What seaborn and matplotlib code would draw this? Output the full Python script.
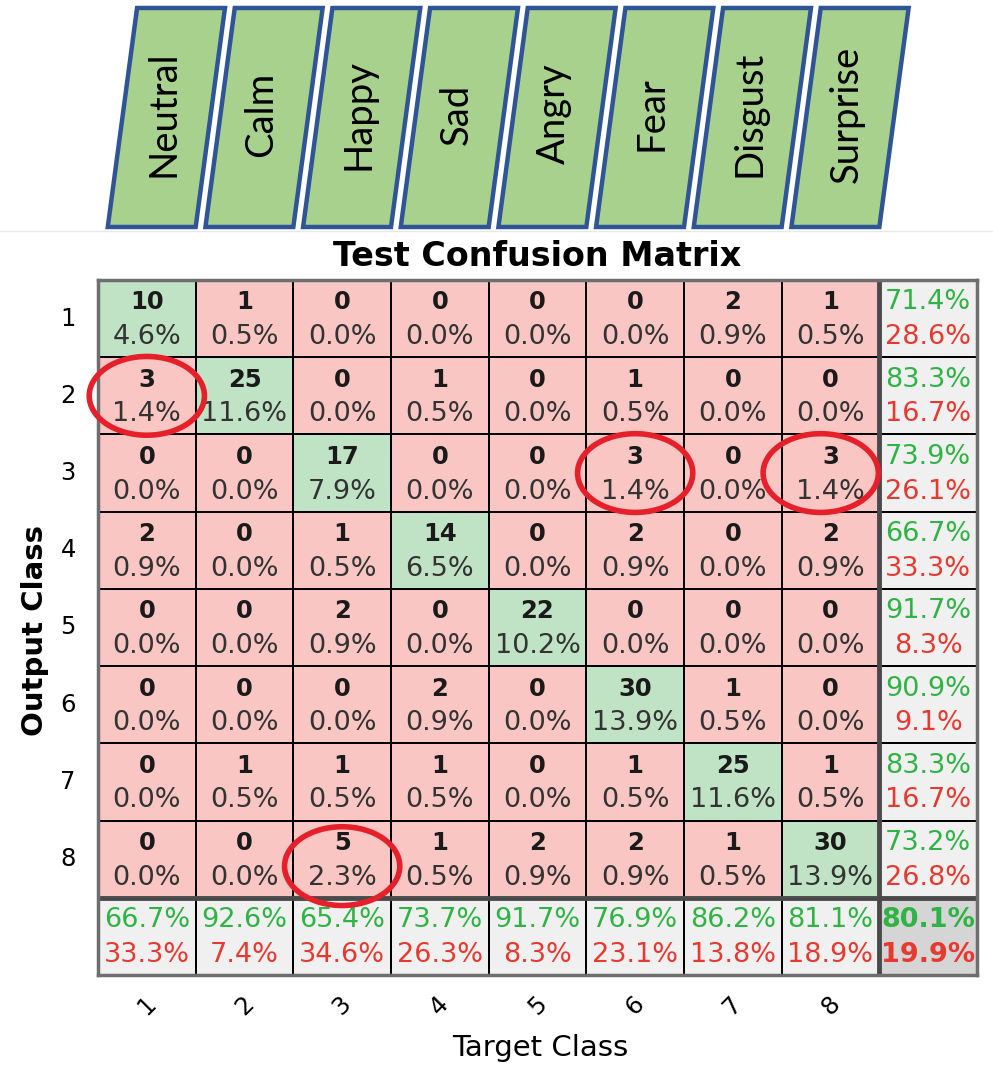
import numpy as np
import matplotlib
matplotlib.use("Agg")
import matplotlib.pyplot as plt
import seaborn as sns
from matplotlib.colors import ListedColormap
from matplotlib.patches import Polygon, Ellipse
from matplotlib.lines import Line2D

# ---------------- data ----------------
emotions = ["Neutral", "Calm", "Happy", "Sad", "Angry", "Fear", "Disgust", "Surprise"]
class_labels = ["1", "2", "3", "4", "5", "6", "7", "8"]
counts = [
    [10, 1, 0, 0, 0, 0, 2, 1],
    [3, 25, 0, 1, 0, 1, 0, 0],
    [0, 0, 17, 0, 0, 3, 0, 3],
    [2, 0, 1, 14, 0, 2, 0, 2],
    [0, 0, 2, 0, 22, 0, 0, 0],
    [0, 0, 0, 2, 0, 30, 1, 0],
    [0, 1, 1, 1, 0, 1, 25, 1],
    [0, 0, 5, 1, 2, 2, 1, 30],
]
highlighted = [(1, 0), (2, 5), (2, 7), (7, 2)]  # (output row, target col)

# small placement nudges for the hand-drawn circles (style, not data)
circle_nudge = [(0.0, 0.0), (0.0, 0.0), (-0.1, 0.0), (0.0, 0.09)]

# ---------------- derived ----------------
cm = np.array(counts)
n = len(class_labels)
total = cm.sum()
row_tot = cm.sum(axis=1)
col_tot = cm.sum(axis=0)
diag = np.diag(cm)

kind = np.zeros((n + 1, n + 1))
for i in range(n):
    kind[i, i] = 1
kind[n, :] = 2
kind[:, n] = 2
kind[n, n] = 3

cmap = ListedColormap(["#f9c6c3", "#bfe3c4", "#f0f0f0", "#d5d5d5"])
GREEN = "#2fb344"
RED = "#e6392f"
PCT_FS = 19.5

plt.rcParams["font.family"] = ["DejaVu Sans"]

W, H = 993, 1079
fig = plt.figure(figsize=(W / 100, H / 100), dpi=100)

# ---------------- matrix ----------------
ax = fig.add_axes([98 / W, 1 - 975 / H, 879 / W, 695 / H])
sns.heatmap(kind, cmap=cmap, vmin=-0.5, vmax=3.5, cbar=False,
            linewidths=1.3, linecolor="black", ax=ax,
            xticklabels=class_labels + [""], yticklabels=class_labels + [""])

for r in range(n):
    for c in range(n):
        ax.text(c + 0.5, r + 0.29, f"{cm[r, c]}", ha="center", va="center",
                fontsize=17.5, fontweight="bold", color="#1a1a1a")
        ax.text(c + 0.5, r + 0.74, f"{100 * cm[r, c] / total:.1f}%", ha="center",
                va="center", fontsize=PCT_FS, color="#333333")
    acc = 100 * diag[r] / row_tot[r]
    ax.text(n + 0.5, r + 0.29, f"{acc:.1f}%", ha="center", va="center",
            fontsize=PCT_FS, color=GREEN)
    ax.text(n + 0.5, r + 0.74, f"{100 - acc:.1f}%", ha="center", va="center",
            fontsize=PCT_FS, color=RED)
for c in range(n):
    acc = 100 * diag[c] / col_tot[c]
    ax.text(c + 0.5, n + 0.29, f"{acc:.1f}%", ha="center", va="center",
            fontsize=PCT_FS, color=GREEN)
    ax.text(c + 0.5, n + 0.74, f"{100 - acc:.1f}%", ha="center", va="center",
            fontsize=PCT_FS, color=RED)
acc = 100 * diag.sum() / total
ax.text(n + 0.5, n + 0.29, f"{acc:.1f}%", ha="center", va="center",
        fontsize=PCT_FS, color=GREEN, fontweight="bold")
ax.text(n + 0.5, n + 0.74, f"{100 - acc:.1f}%", ha="center", va="center",
        fontsize=PCT_FS, color=RED, fontweight="bold")

ax.axhline(n, color="#4a4a4a", lw=3.5)
ax.axvline(n, color="#4a4a4a", lw=3.5)
for sp in ax.spines.values():
    sp.set_visible(True)
    sp.set_color("#6e6e6e")
    sp.set_linewidth(2.5)

for (r, c), (dx, dy) in zip(highlighted, circle_nudge):
    ax.add_patch(Ellipse((c + 0.5 + dx, r + 0.5 + dy), width=1.18, height=1.02,
                         fill=False, edgecolor="#e5202a", lw=4, clip_on=False,
                         zorder=6))

ax.tick_params(axis="both", length=0, labelsize=17.5, colors="black")
ax.tick_params(axis="x", pad=22)
ax.tick_params(axis="y", pad=16)
plt.setp(ax.get_xticklabels(), rotation=45, ha="center", va="center")
plt.setp(ax.get_yticklabels(), rotation=0)

ax.set_title("Test Confusion Matrix", fontsize=24, fontweight="bold", pad=10)
ax.set_xlabel("Target Class", fontsize=21)
ax.xaxis.set_label_coords(0.503, -0.105)
ax.xaxis.label.set_va("center")
ax.set_ylabel("Output Class", fontsize=21, fontweight="bold")
ax.yaxis.set_label_coords((35 - 98) / 879, (975 - 630) / 695)
ax.yaxis.label.set_va("center")

# ---------------- emotion banner ----------------
axt = fig.add_axes([98 / W, 1 - 235 / H, 879 / W, 235 / H])
axt.set_xlim(0, n + 1)
axt.set_ylim(235, 0)
axt.axis("off")
half_w, skew = 0.45, 0.15
for i, name in enumerate(emotions):
    cx = i + 0.5 + 0.2
    pts = [(cx + skew - half_w, 8), (cx + skew + half_w, 8),
           (cx - skew + half_w, 227), (cx - skew - half_w, 227)]
    axt.add_patch(Polygon(pts, closed=True, facecolor="#a9d18e",
                          edgecolor="#2f5597", lw=3.2, clip_on=False))
    axt.text(cx - 0.03, 114, name, rotation=90, ha="center", va="center",
             fontsize=27.5, family=["Lato", "DejaVu Sans"], color="black")

fig.add_artist(Line2D([0, 1], [1 - 231 / H] * 2, transform=fig.transFigure,
                      color="#e8e8e8", lw=1))

fig.savefig("out.png", dpi=100, facecolor="white")
